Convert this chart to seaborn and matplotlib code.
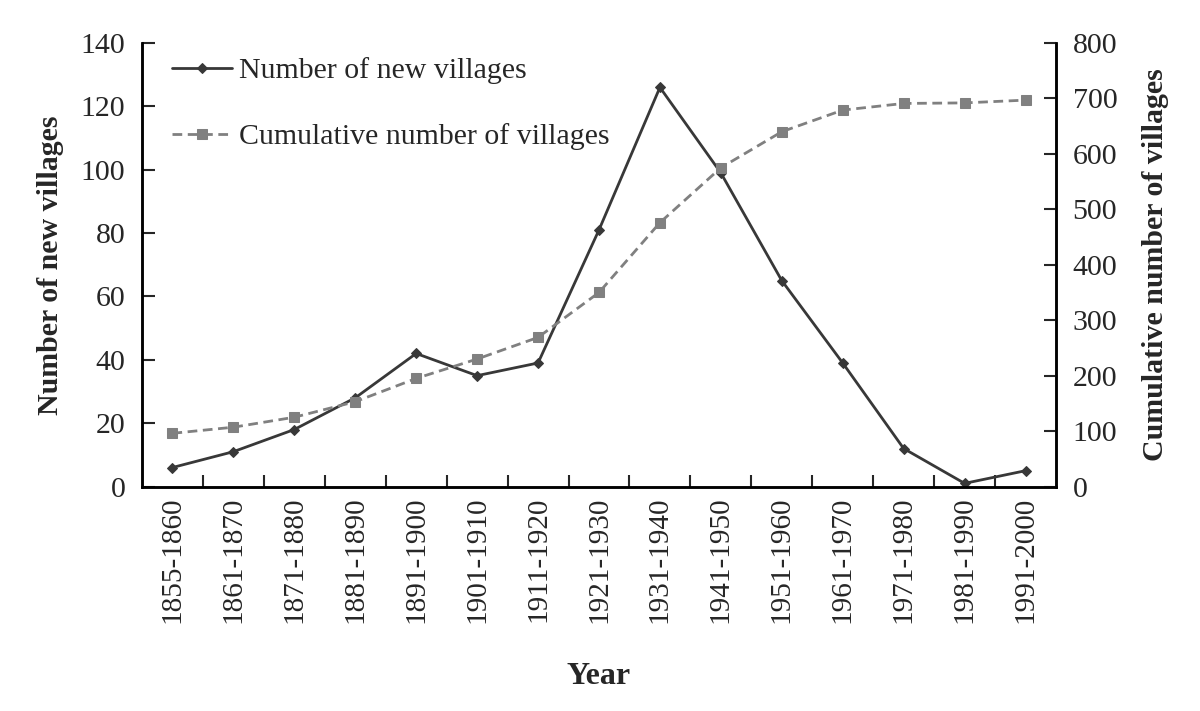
import matplotlib
matplotlib.use("Agg")
import matplotlib.pyplot as plt
import seaborn as sns
import pandas as pd
import numpy as np
from matplotlib.ticker import FixedLocator, MultipleLocator

periods = ["1855-1860", "1861-1870", "1871-1880", "1881-1890", "1891-1900",
           "1901-1910", "1911-1920", "1921-1930", "1931-1940", "1941-1950",
           "1951-1960", "1961-1970", "1971-1980", "1981-1990", "1991-2000"]
new_villages = [6, 11, 18, 28, 42, 35, 39, 81, 126, 99, 65, 39, 12, 1, 5]
cumulative = [96, 107, 125, 153, 195, 230, 269, 350, 476, 575, 640, 679, 691, 692, 697]

df = pd.DataFrame({"Year": periods, "new": new_villages, "cum": cumulative})

sns.set_theme(style="white")
plt.rcParams["font.family"] = ["Liberation Serif", "DejaVu Serif"]
plt.rcParams["mathtext.fontset"] = "stix"

fig = plt.figure(figsize=(12, 7.11), dpi=100)
ax = fig.add_axes([0.1183, 0.3157, 0.7617, 0.6238])
ax2 = ax.twinx()

sns.lineplot(data=df, x="Year", y="new", ax=ax, color="#383838", linewidth=2,
             marker="D", markersize=5, markeredgecolor="#383838",
             label="Number of new villages", legend=False, sort=False)
sns.lineplot(data=df, x="Year", y="cum", ax=ax2, color="#808080", linewidth=2,
             linestyle=(0, (3.5, 2.0)), marker="s", markersize=7,
             markeredgecolor="#808080",
             label="Cumulative number of villages", legend=False, sort=False)

n = len(periods)
ax.set_xlim(-0.5, n - 0.5)
ax.set_ylim(0, 140)
ax2.set_ylim(0, 800)
ax.yaxis.set_major_locator(MultipleLocator(20))
ax2.yaxis.set_major_locator(MultipleLocator(100))

ax.set_xticks(range(n))
ax.set_xticklabels(periods, rotation=90, fontsize=21)
ax.xaxis.set_minor_locator(FixedLocator(np.arange(0.5, n - 0.5, 1)))
ax.tick_params(axis="x", which="major", length=0, pad=7)
ax.tick_params(axis="x", which="minor", direction="in", length=9, width=1.5, bottom=True)
ax.tick_params(axis="y", direction="in", length=9, width=1.5, labelsize=21.5, left=True, pad=12)
ax2.tick_params(axis="y", direction="in", length=9, width=1.5, labelsize=21.5, right=True, pad=12)

for a in (ax, ax2):
    for side in ["left", "right", "bottom", "top"]:
        a.spines[side].set_color("black")
        a.spines[side].set_linewidth(1.8)
    a.spines["top"].set_visible(False)
    a.grid(False)

ax.set_xlabel("Year", fontsize=23, fontweight="bold", labelpad=28)
ax.set_ylabel("Number of new villages", fontsize=21.5, fontweight="bold", labelpad=12)
ax2.set_ylabel("Cumulative number of villages", fontsize=21.5, fontweight="bold", labelpad=18)

h1, l1 = ax.get_legend_handles_labels()
h2, l2 = ax2.get_legend_handles_labels()
leg = ax2.legend(h1 + h2, l1 + l2, loc="upper left", frameon=False, fontsize=21.5,
                 handlelength=2.0, handletextpad=0.25, labelspacing=1.3,
                 bbox_to_anchor=(0.0, 1.035), borderaxespad=0.6)

fig.savefig("out.png", dpi=100)
